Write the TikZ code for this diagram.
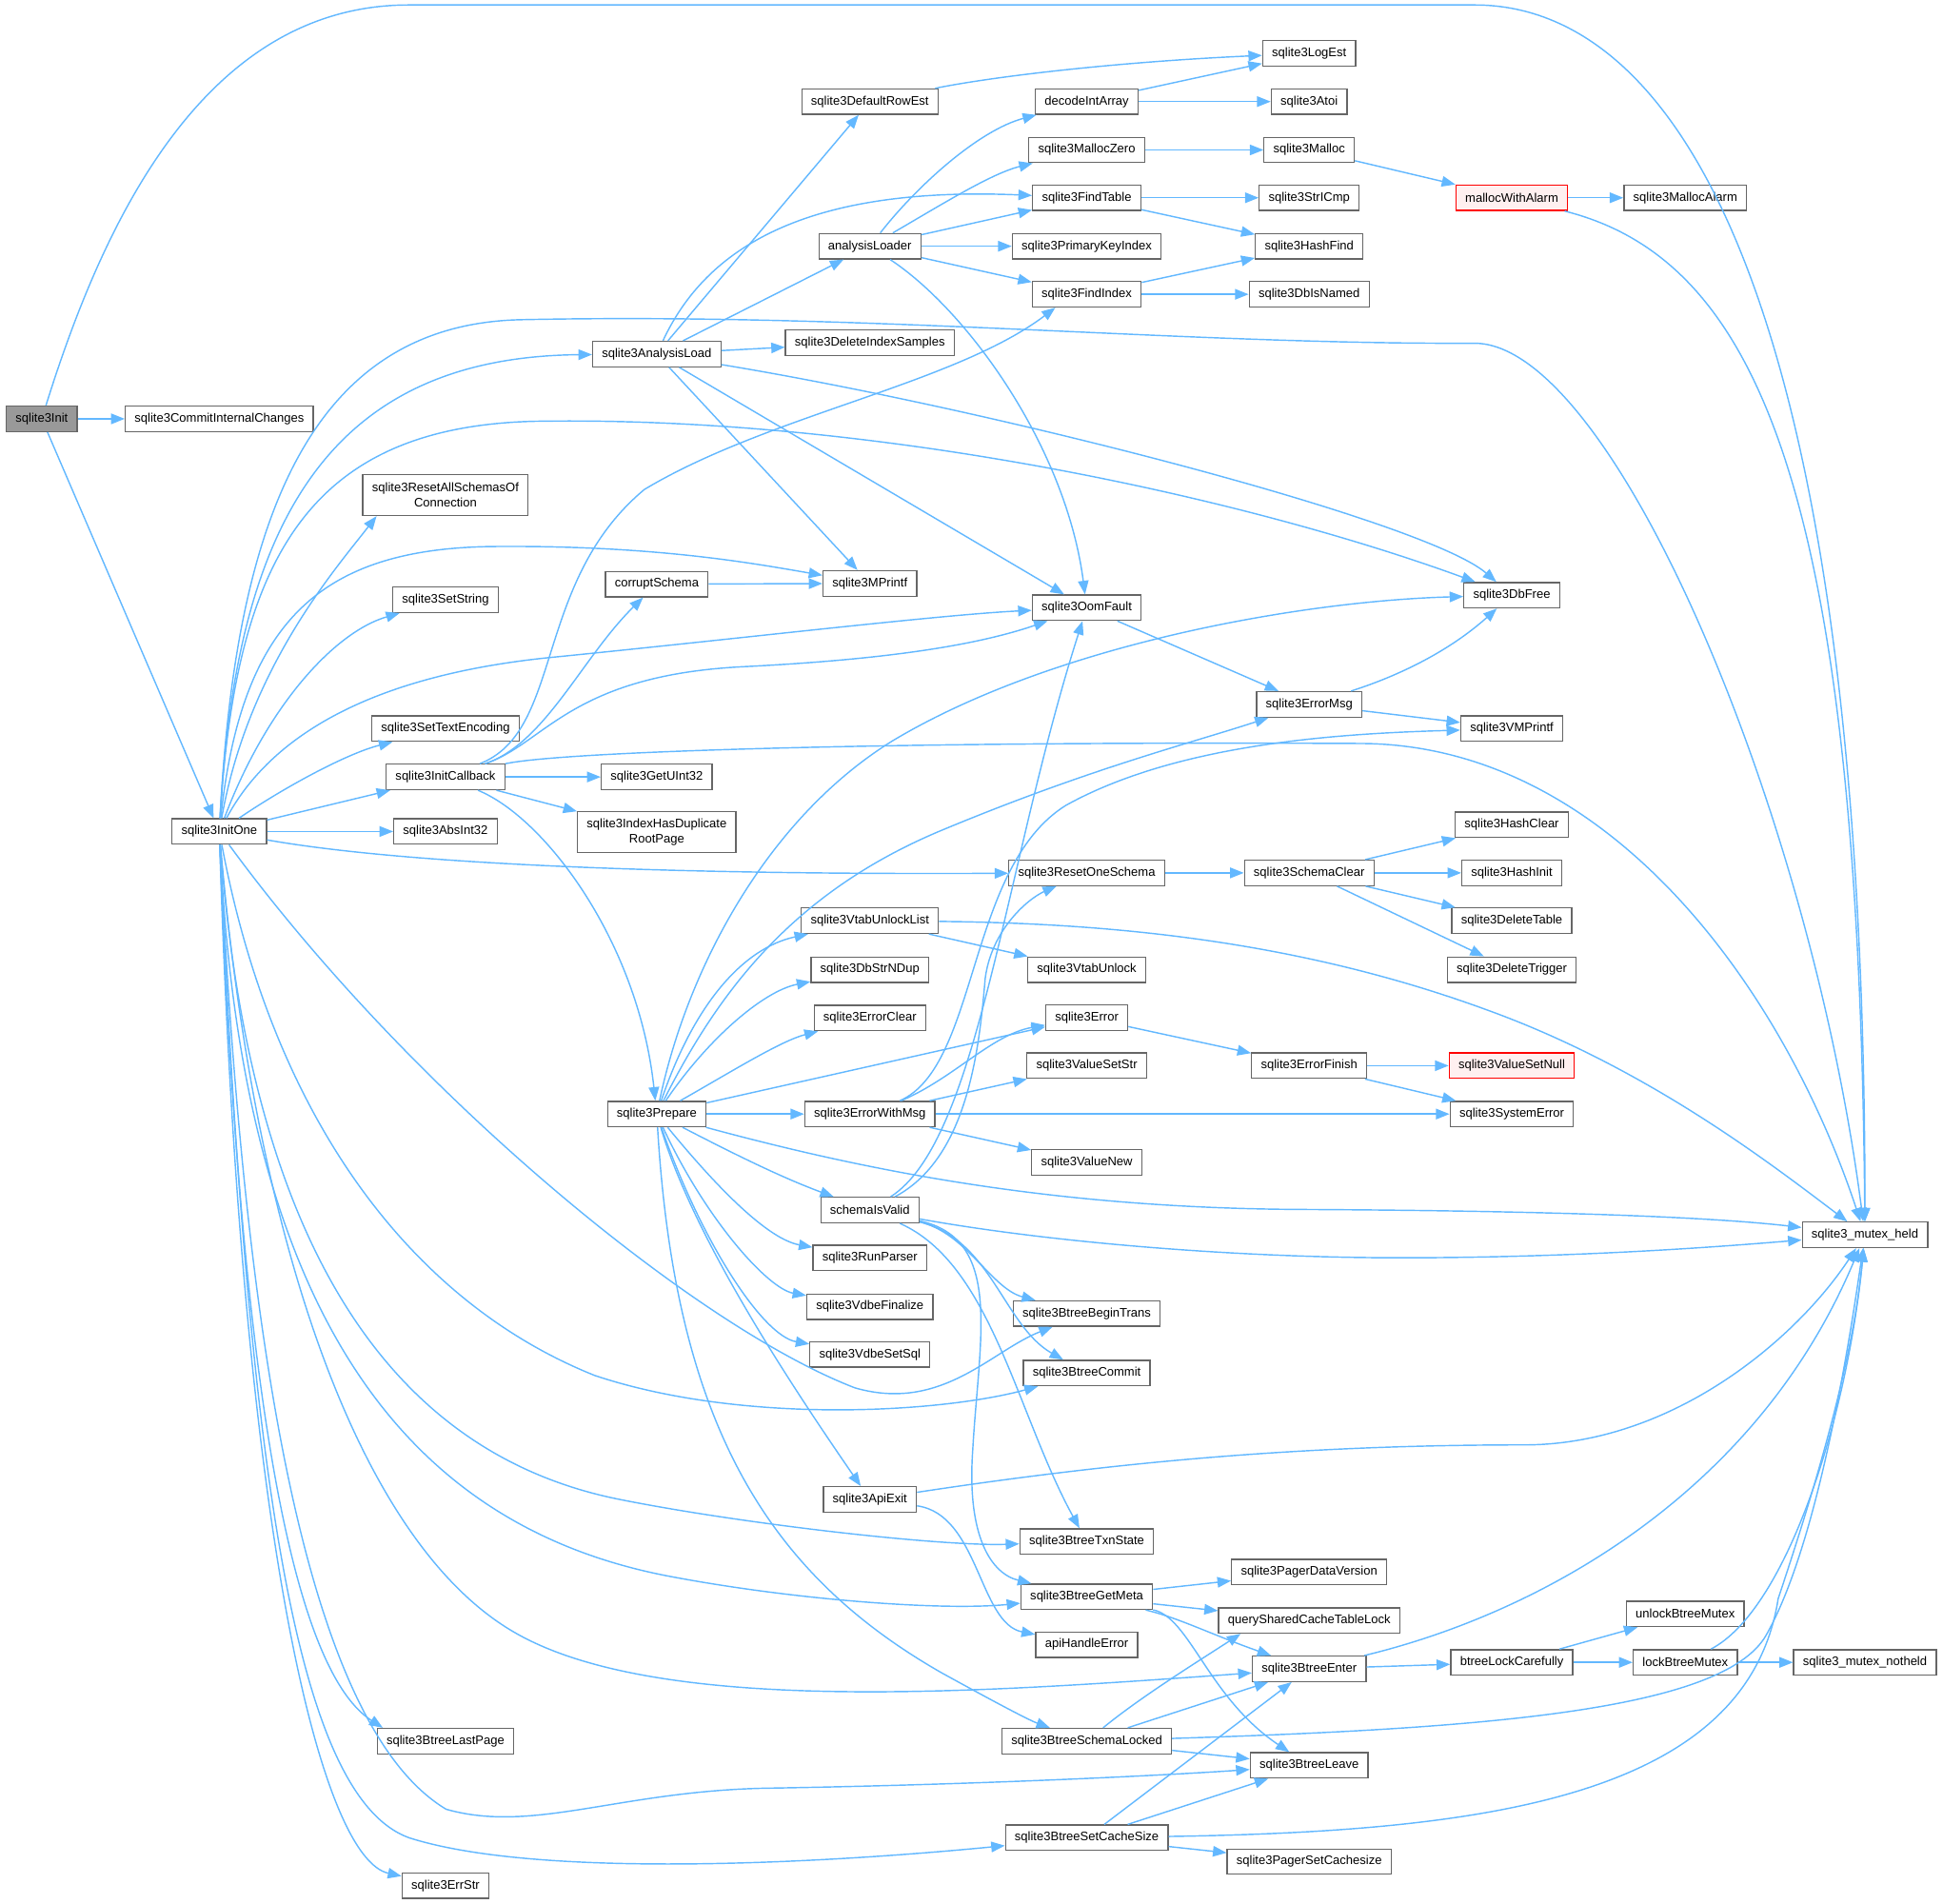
\documentclass[tikz,border=0pt]{standalone}
\usepackage{fontspec}
\setmainfont{Liberation Sans}
\usetikzlibrary{arrows.meta}
\definecolor{edgeblue}{RGB}{99,184,255}
\definecolor{boxgray}{RGB}{102,102,102}
\definecolor{rootgray}{RGB}{153,153,153}
\definecolor{pinkfill}{RGB}{255,240,240}

\begin{document}
\begin{tikzpicture}[x=1pt, y=-1pt,
    fn/.style={draw=boxgray, fill=white, line width=1pt, minimum height=20.5pt,
      inner xsep=7.5pt, inner ysep=2pt, align=center,
      font=\fontsize{10}{12.5}\selectfont},
    fnroot/.style={fn, fill=rootgray},
    fnred/.style={fn, draw=red, fill=pinkfill},
    fntwo/.style={fn, minimum height=33pt},
    call/.style={draw=edgeblue, line width=1.1pt, -{Triangle[length=11pt,width=8.5pt]}}]
    \useasboundingbox (0,0) rectangle (1568,1536);

    % column 0 and 1
    \node[fnroot] (init) at (33.7,338) {sqlite3Init};
    \node[fn] (commit) at (177,338) {sqlite3CommitInternalChanges};
    \node[fn] (initone) at (177,671) {sqlite3InitOne};

    % column 2
    \node[fntwo] (resetall) at (359.5,399.5) {sqlite3ResetAllSchemasOf\\Connection};
    \node[fn] (setstring) at (359.5,484) {sqlite3SetString};
    \node[fn] (settextenc) at (359.5,588) {sqlite3SetTextEncoding};
    \node[fn] (initcb) at (359.5,627) {sqlite3InitCallback};
    \node[fn] (absint) at (359.5,671) {sqlite3AbsInt32};
    \node[fn] (lastpage) at (359.5,1405) {sqlite3BtreeLastPage};
    \node[fn] (errstr) at (359.5,1521.7) {sqlite3ErrStr};

    % column 3
    \node[fn] (analysisload) at (530,285.7) {sqlite3AnalysisLoad};
    \node[fn] (corrupt) at (530,471.4) {corruptSchema};
    \node[fn] (getuint) at (530,627) {sqlite3GetUInt32};
    \node[fntwo] (hasdup) at (530,671.5) {sqlite3IndexHasDuplicate\\RootPage};
    \node[fn] (prepare) at (530,899) {sqlite3Prepare};

    % column 4
    \node[fn] (defrowest) at (702,82) {sqlite3DefaultRowEst};
    \node[fn] (loader) at (702,198.7) {analysisLoader};
    \node[fn] (delsamples) at (702,276.5) {sqlite3DeleteIndexSamples};
    \node[fn] (mprintf) at (702,470.8) {sqlite3MPrintf};
    \node[fn] (vtabunlocklist) at (702,743) {sqlite3VtabUnlockList};
    \node[fn] (strndup) at (702,782.5) {sqlite3DbStrNDup};
    \node[fn] (errclear) at (702,821.5) {sqlite3ErrorClear};
    \node[fn] (errwithmsg) at (702,899) {sqlite3ErrorWithMsg};
    \node[fn] (schemavalid) at (702,976.5) {schemaIsValid};
    \node[fn] (runparser) at (702,1015) {sqlite3RunParser};
    \node[fn] (finalize) at (702,1054.5) {sqlite3VdbeFinalize};
    \node[fn] (setsql) at (702,1093) {sqlite3VdbeSetSql};
    \node[fn] (apiexit) at (702,1210) {sqlite3ApiExit};

    % column 5
    \node[fn] (decode) at (877,82) {decodeIntArray};
    \node[fn] (malloczero) at (877,121) {sqlite3MallocZero};
    \node[fn] (findtable) at (877,159.6) {sqlite3FindTable};
    \node[fn] (pkindex) at (877,198.7) {sqlite3PrimaryKeyIndex};
    \node[fn] (findindex) at (877,237.5) {sqlite3FindIndex};
    \node[fn] (oom) at (877,490.4) {sqlite3OomFault};
    \node[fn] (resetone) at (877,704.4) {sqlite3ResetOneSchema};
    \node[fn] (vtabunlock) at (877,782.5) {sqlite3VtabUnlock};
    \node[fn] (error) at (877,821.2) {sqlite3Error};
    \node[fn] (valsetstr) at (877,860) {sqlite3ValueSetStr};
    \node[fn] (valnew) at (877,938) {sqlite3ValueNew};
    \node[fn] (begintrans) at (877,1060) {sqlite3BtreeBeginTrans};
    \node[fn] (commitbt) at (877,1108) {sqlite3BtreeCommit};
    \node[fn] (txnstate) at (877,1244) {sqlite3BtreeTxnState};
    \node[fn] (getmeta) at (877,1288.5) {sqlite3BtreeGetMeta};
    \node[fn] (apierr) at (877,1327.2) {apiHandleError};
    \node[fn] (schemalocked) at (877,1405) {sqlite3BtreeSchemaLocked};
    \node[fn] (setcache) at (877,1483) {sqlite3BtreeSetCacheSize};

    % column 6
    \node[fn] (logest) at (1056.5,43) {sqlite3LogEst};
    \node[fn] (atoi) at (1056.5,82) {sqlite3Atoi};
    \node[fn] (malloc) at (1056.5,121) {sqlite3Malloc};
    \node[fn] (stricmp) at (1056.5,159.6) {sqlite3StrICmp};
    \node[fn] (hashfind) at (1056.5,198.7) {sqlite3HashFind};
    \node[fn] (dbisnamed) at (1056.5,237.5) {sqlite3DbIsNamed};
    \node[fn] (errmsg) at (1056.5,568.4) {sqlite3ErrorMsg};
    \node[fn] (schemaclear) at (1056.5,704.4) {sqlite3SchemaClear};
    \node[fn] (errfinish) at (1056.5,860) {sqlite3ErrorFinish};
    \node[fn] (pagerdv) at (1056.5,1268.7) {sqlite3PagerDataVersion};
    \node[fn] (querylock) at (1056.5,1307.7) {querySharedCacheTableLock};
    \node[fn] (btenter) at (1056.5,1346.7) {sqlite3BtreeEnter};
    \node[fn] (btleave) at (1056.5,1424.6) {sqlite3BtreeLeave};
    \node[fn] (pagercache) at (1056.5,1502.3) {sqlite3PagerSetCachesize};

    % column 7
    \node[fnred] (mallocwa) at (1220,159.6) {mallocWithAlarm};
    \node[fn] (dbfree) at (1220,480.3) {sqlite3DbFree};
    \node[fn] (vmprintf) at (1220,588) {sqlite3VMPrintf};
    \node[fn] (hashclear) at (1220,665.6) {sqlite3HashClear};
    \node[fn] (hashinit) at (1220,704.4) {sqlite3HashInit};
    \node[fn] (deltable) at (1220,743) {sqlite3DeleteTable};
    \node[fn] (deltrigger) at (1220,782.5) {sqlite3DeleteTrigger};
    \node[fnred] (valsetnull) at (1220,860) {sqlite3ValueSetNull};
    \node[fn] (syserror) at (1220,899) {sqlite3SystemError};
    \node[fn] (lockcareful) at (1220,1341.5) {btreeLockCarefully};

    % columns 8 and 9
    \node[fn] (mallocalarm) at (1360,159.6) {sqlite3MallocAlarm};
    \node[fn] (unlockmutex) at (1360,1302.4) {unlockBtreeMutex};
    \node[fn] (lockmutex) at (1360,1341.5) {lockBtreeMutex};
    \node[fn] (mutexheld) at (1505,996.5) {sqlite3\_mutex\_held};
    \node[fn] (mutexnotheld) at (1505,1341.5) {sqlite3\_mutex\_notheld};

    % sqlite3Init
    \draw[call] (init) -- (commit);
    \draw[call] (init) -- (initone);
    \draw[call] (init) .. controls (80,190) and (160,4) .. (330,4) -- (1190,4)
        .. controls (1350,4) and (1505,230) .. (mutexheld);

    % sqlite3InitOne
    \draw[call] (initone) .. controls (190,430) and (260,288) .. (analysisload);
    \draw[call] (initone) .. controls (190,420) and (250,262) .. (420,258)
        .. controls (700,252) and (950,278) .. (1190,277)
        .. controls (1300,277) and (1460,650) .. (mutexheld);
    \draw[call] (initone) .. controls (190,450) and (250,345) .. (430,340)
        .. controls (700,335) and (1000,400) .. (dbfree);
    \draw[call] (initone) .. controls (200,540) and (270,460) .. (resetall.197);
    \draw[call] (initone) .. controls (195,500) and (260,442) .. (400,441)
        .. controls (530,440) and (610,455) .. (mprintf);
    \draw[call] (initone) .. controls (215,570) and (270,510) .. (setstring);
    \draw[call] (initone) .. controls (215,600) and (290,545) .. (450,530)
        .. controls (600,515) and (760,496) .. (oom);
    \draw[call] (initone) .. controls (230,635) and (280,608) .. (settextenc);
    \draw[call] (initone) -- (initcb);
    \draw[call] (initone) -- (absint);
    \draw[call] (initone) .. controls (330,698) and (550,706) .. (resetone);
    \draw[call] (initone) .. controls (330,880) and (560,1070) .. (690,1120)
        .. controls (760,1140) and (800,1090) .. (begintrans);
    \draw[call] (initone) .. controls (220,900) and (330,1050) .. (480,1110)
        .. controls (600,1150) and (760,1140) .. (commitbt);
    \draw[call] (initone) .. controls (200,980) and (300,1170) .. (500,1210)
        .. controls (600,1230) and (760,1248) .. (txnstate);
    \draw[call] (initone) .. controls (195,1050) and (320,1230) .. (540,1272)
        .. controls (640,1291) and (760,1300) .. (getmeta);
    \draw[call] (initone) .. controls (205,1000) and (290,1250) .. (420,1320)
        .. controls (540,1385) and (800,1365) .. (btenter);
    \draw[call] (initone) .. controls (195,1150) and (240,1350) .. (lastpage.168);
    \draw[call] (initone) .. controls (200,1150) and (260,1400) .. (360,1460)
        .. controls (430,1480) and (500,1445) .. (620,1443)
        .. controls (800,1440) and (950,1432) .. (btleave);
    \draw[call] (initone) .. controls (200,1200) and (240,1450) .. (330,1483)
        .. controls (430,1515) and (650,1505) .. (setcache);
    \draw[call] (initone) .. controls (195,1250) and (260,1500) .. (errstr);

    % sqlite3InitCallback
    \draw[call] (initcb) .. controls (440,600) and (470,530) .. (corrupt);
    \draw[call] (initcb) .. controls (455,590) and (430,470) .. (520,395)
        .. controls (620,335) and (770,310) .. (findindex.203);
    \draw[call] (initcb) .. controls (440,600) and (460,545) .. (600,538)
        .. controls (720,532) and (790,520) .. (oom);
    \draw[call] (initcb) .. controls (450,607) and (700,598) .. (1100,600)
        .. controls (1300,602) and (1440,800) .. (mutexheld);
    \draw[call] (initcb) -- (getuint);
    \draw[call] (initcb) -- (hasdup);
    \draw[call] (initcb) .. controls (440,660) and (515,760) .. (prepare);

    % sqlite3AnalysisLoad
    \draw[call] (analysisload) -- (defrowest);
    \draw[call] (analysisload) .. controls (570,200) and (650,150) .. (findtable);
    \draw[call] (analysisload) -- (loader);
    \draw[call] (analysisload) -- (delsamples);
    \draw[call] (analysisload) .. controls (800,330) and (1150,420) .. (dbfree);
    \draw[call] (analysisload) -- (mprintf);
    \draw[call] (analysisload) -- (oom);

    % analysisLoader
    \draw[call] (loader) .. controls (740,150) and (790,105) .. (decode);
    \draw[call] (loader) .. controls (760,165) and (800,140) .. (malloczero);
    \draw[call] (loader) -- (findtable);
    \draw[call] (loader) -- (pkindex);
    \draw[call] (loader) -- (findindex);
    \draw[call] (loader) .. controls (780,250) and (860,360) .. (oom);

    % top right
    \draw[call] (defrowest) .. controls (800,62) and (900,50) .. (logest);
    \draw[call] (decode) -- (logest);
    \draw[call] (decode) -- (atoi);
    \draw[call] (malloczero) -- (malloc);
    \draw[call] (malloc) -- (mallocwa);
    \draw[call] (mallocwa) -- (mallocalarm);
    \draw[call] (mallocwa) .. controls (1420,210) and (1500,400) .. (mutexheld);
    \draw[call] (findtable) -- (stricmp);
    \draw[call] (findtable) -- (hashfind);
    \draw[call] (findindex) -- (hashfind);
    \draw[call] (findindex) -- (dbisnamed);
    \draw[call] (corrupt) -- (mprintf);
    \draw[call] (oom) -- (errmsg);
    \draw[call] (errmsg) .. controls (1130,545) and (1170,525) .. (dbfree);
    \draw[call] (errmsg) -- (vmprintf);

    % sqlite3Prepare
    \draw[call] (prepare) .. controls (555,780) and (620,660) .. (720,598)
        .. controls (850,520) and (1050,485) .. (dbfree);
    \draw[call] (prepare) .. controls (580,800) and (640,720) .. (760,670)
        .. controls (880,620) and (960,600) .. (errmsg);
    \draw[call] (prepare) .. controls (560,810) and (600,765) .. (vtabunlocklist);
    \draw[call] (prepare) .. controls (570,840) and (615,800) .. (strndup);
    \draw[call] (prepare) .. controls (590,865) and (630,840) .. (errclear);
    \draw[call] (prepare) -- (error);
    \draw[call] (prepare) -- (errwithmsg);
    \draw[call] (prepare) .. controls (590,930) and (630,950) .. (schemavalid);
    \draw[call] (prepare) .. controls (700,945) and (850,975) .. (1050,976)
        .. controls (1250,977) and (1380,982) .. (mutexheld);
    \draw[call] (prepare) .. controls (580,960) and (620,1000) .. (runparser);
    \draw[call] (prepare) .. controls (570,985) and (620,1040) .. (finalize);
    \draw[call] (prepare) .. controls (565,1000) and (615,1078) .. (setsql);
    \draw[call] (prepare) .. controls (560,1000) and (640,1120) .. (apiexit);
    \draw[call] (prepare) .. controls (545,1150) and (620,1270) .. (760,1350)
        .. controls (800,1372) and (830,1388) .. (schemalocked);

    % middle
    \draw[call] (vtabunlocklist) -- (vtabunlock);
    \draw[call] (vtabunlocklist) .. controls (900,745) and (1050,760) .. (1200,815)
        .. controls (1330,862) and (1430,940) .. (mutexheld);
    \draw[call] (resetone) -- (schemaclear);
    \draw[call] (schemaclear) -- (hashclear);
    \draw[call] (schemaclear) -- (hashinit);
    \draw[call] (schemaclear) -- (deltable);
    \draw[call] (schemaclear) -- (deltrigger);
    \draw[call] (error) -- (errfinish);
    \draw[call] (errfinish) -- (valsetnull);
    \draw[call] (errfinish) -- (syserror);
    \draw[call] (errwithmsg) .. controls (770,870) and (800,835) .. (error);
    \draw[call] (errwithmsg) -- (valsetstr);
    \draw[call] (errwithmsg) -- (syserror);
    \draw[call] (errwithmsg) -- (valnew);
    \draw[call] (errwithmsg) .. controls (790,860) and (780,700) .. (860,650)
        .. controls (950,600) and (1080,592) .. (vmprintf);

    % schemaIsValid
    \draw[call] (schemavalid) .. controls (790,920) and (810,700) .. (oom);
    \draw[call] (schemavalid) .. controls (780,935) and (790,850) .. (795,790)
        .. controls (800,750) and (830,725) .. (resetone);
    \draw[call] (schemavalid) .. controls (850,1003) and (1000,1015) .. (1130,1015)
        .. controls (1280,1015) and (1400,1005) .. (mutexheld);
    \draw[call] (schemavalid) .. controls (780,995) and (800,1040) .. (begintrans);
    \draw[call] (schemavalid) .. controls (800,1000) and (810,1070) .. (commitbt);
    \draw[call] (schemavalid) .. controls (800,1020) and (820,1140) .. (txnstate);
    \draw[call] (schemavalid) .. controls (810,1000) and (790,1080) .. (785,1170)
        .. controls (780,1240) and (800,1270) .. (getmeta);

    % sqlite3ApiExit
    \draw[call] (apiexit) .. controls (900,1180) and (1050,1166) .. (1230,1166)
        .. controls (1350,1166) and (1450,1080) .. (mutexheld);
    \draw[call] (apiexit) .. controls (790,1222) and (790,1310) .. (apierr);

    % btree
    \draw[call] (getmeta) -- (pagerdv);
    \draw[call] (getmeta) -- (querylock);
    \draw[call] (getmeta) .. controls (950,1305) and (980,1320) .. (btenter);
    \draw[call] (getmeta) .. controls (960,1305) and (975,1370) .. (btleave);
    \draw[call] (btenter) -- (lockcareful);
    \draw[call] (btenter) .. controls (1250,1300) and (1420,1200) .. (mutexheld);
    \draw[call] (lockcareful) -- (unlockmutex);
    \draw[call] (lockcareful) -- (lockmutex);
    \draw[call] (lockmutex) -- (mutexnotheld);
    \draw[call] (lockmutex) .. controls (1440,1300) and (1490,1150) .. (mutexheld);
    \draw[call] (schemalocked) .. controls (920,1370) and (960,1345) .. (querylock.191);
    \draw[call] (schemalocked) -- (btenter);
    \draw[call] (schemalocked) -- (btleave);
    \draw[call] (schemalocked) .. controls (1200,1395) and (1390,1380) .. (1425,1320)
        .. controls (1465,1250) and (1490,1100) .. (mutexheld);
    \draw[call] (setcache) -- (btenter);
    \draw[call] (setcache) -- (btleave);
    \draw[call] (setcache) -- (pagercache);
    \draw[call] (setcache) .. controls (1200,1478) and (1410,1450) .. (1435,1290)
        .. controls (1465,1200) and (1495,1100) .. (mutexheld);
\end{tikzpicture}
\end{document}
